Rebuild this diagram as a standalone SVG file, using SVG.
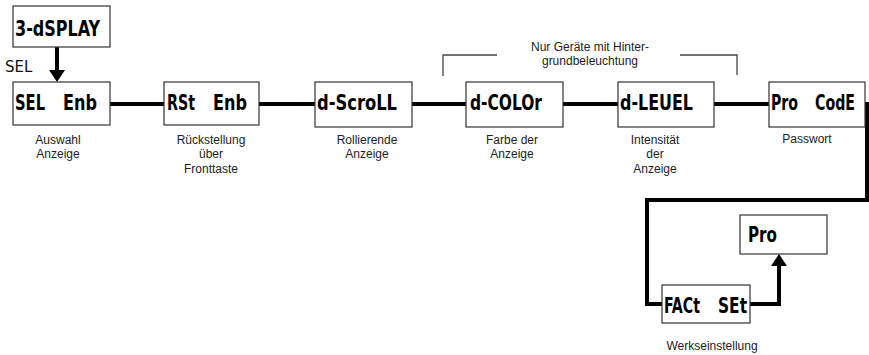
<svg xmlns="http://www.w3.org/2000/svg" width="869" height="355" viewBox="0 0 869 355">
<defs>
<style>
.box{fill:#fff;stroke:#333;stroke-width:1.2}
.lcd{font-family:"DejaVu Sans Condensed","DejaVu Sans",sans-serif;font-weight:bold;font-size:21.5px;fill:#000}
.lbl{font-family:"Liberation Sans",Arial,sans-serif;font-size:12px;fill:#222;text-anchor:middle}
.wire{fill:none;stroke:#000;stroke-width:4}
.thin{fill:none;stroke:#444;stroke-width:1.3}
</style>
</defs>
<rect width="869" height="355" fill="#fff"/>
<g id="connectors">
<line class="wire" x1="57" y1="47" x2="57" y2="72" stroke-width="6"/>
<polygon points="49,70 65,70 57,82" fill="#000"/>
<line class="wire" x1="110" y1="104" x2="164" y2="104"/>
<line class="wire" x1="259" y1="104" x2="315" y2="104"/>
<line class="wire" x1="412" y1="104" x2="466" y2="104"/>
<line class="wire" x1="563" y1="104" x2="618" y2="104"/>
<line class="wire" x1="714" y1="104" x2="769" y2="104"/>
<polyline class="wire" points="865,104 867,104 867,200 647,200 647,304 662,304"/>
<polyline class="wire" points="750,304 779,304 779,264"/>
<polygon points="771,266 787,266 779,254" fill="#000"/>
<polyline class="thin" points="443,76 443,55 497,55"/>
<polyline class="thin" points="680,55 737,55 737,75"/>
<text class="lbl" x="590" y="51">Nur Geräte mit Hinter-</text>
<text class="lbl" x="590" y="65">grundbeleuchtung</text>
<text x="5" y="72" style="font-family:'DejaVu Sans',sans-serif;font-size:15px;fill:#111">SEL</text>
</g>
<g id="n-display">
<rect class="box" x="13" y="6" width="97" height="41"/>
<text class="lcd" x="15" y="36" textLength="85" lengthAdjust="spacingAndGlyphs">3-dSPLAY</text>
</g>
<g id="n-sel">
<rect class="box" x="13" y="82" width="97" height="43"/>
<text class="lcd" x="15" y="110" textLength="30" lengthAdjust="spacingAndGlyphs">SEL</text>
<text class="lcd" x="63" y="110" textLength="34" lengthAdjust="spacingAndGlyphs">Enb</text>
<text class="lbl" x="58" y="144">Auswahl</text>
<text class="lbl" x="58" y="158">Anzeige</text>
</g>
<g id="n-rst">
<rect class="box" x="164" y="82" width="95" height="43"/>
<text class="lcd" x="167" y="110" textLength="28" lengthAdjust="spacingAndGlyphs">RSt</text>
<text class="lcd" x="213" y="110" textLength="34" lengthAdjust="spacingAndGlyphs">Enb</text>
<text class="lbl" x="211" y="144">Rückstellung</text>
<text class="lbl" x="211" y="158">über</text>
<text class="lbl" x="211" y="173">Fronttaste</text>
</g>
<g id="n-scroll">
<rect class="box" x="315" y="82" width="97" height="45"/>
<text class="lcd" x="317" y="110" textLength="80" lengthAdjust="spacingAndGlyphs">d-ScroLL</text>
<text class="lbl" x="367" y="144">Rollierende</text>
<text class="lbl" x="367" y="158">Anzeige</text>
</g>
<g id="n-color">
<rect class="box" x="466" y="82" width="97" height="45"/>
<text class="lcd" x="470" y="110" textLength="72" lengthAdjust="spacingAndGlyphs">d-COLOr</text>
<text class="lbl" x="512" y="144">Farbe der</text>
<text class="lbl" x="512" y="158">Anzeige</text>
</g>
<g id="n-level">
<rect class="box" x="618" y="82" width="96" height="45"/>
<text class="lcd" x="620" y="110" textLength="73" lengthAdjust="spacingAndGlyphs">d-LEUEL</text>
<text class="lbl" x="655" y="144">Intensität</text>
<text class="lbl" x="655" y="158">der</text>
<text class="lbl" x="655" y="173">Anzeige</text>
</g>
<g id="n-code">
<rect class="box" x="769" y="82" width="96" height="45"/>
<text class="lcd" x="771" y="110" textLength="27" lengthAdjust="spacingAndGlyphs">Pro</text>
<text class="lcd" x="815" y="110" textLength="40" lengthAdjust="spacingAndGlyphs">CodE</text>
<text class="lbl" x="807" y="143">Passwort</text>
</g>
<g id="n-pro">
<rect class="box" x="740" y="215" width="87" height="39"/>
<text class="lcd" x="748" y="242" textLength="29" lengthAdjust="spacingAndGlyphs">Pro</text>
</g>
<g id="n-fact">
<rect class="box" x="662" y="285" width="88" height="38"/>
<text class="lcd" x="664" y="313" textLength="36" lengthAdjust="spacingAndGlyphs">FACt</text>
<text class="lcd" x="718" y="313" textLength="29" lengthAdjust="spacingAndGlyphs">SEt</text>
<text class="lbl" x="712" y="350">Werkseinstellung</text>
</g>
</svg>
